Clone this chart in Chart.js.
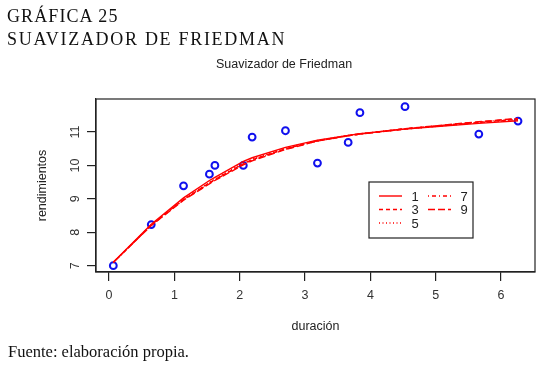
<!DOCTYPE html>
<html>
<head>
<meta charset="utf-8">
<script src="https://cdn.jsdelivr.net/npm/chart.js@4/dist/chart.umd.min.js"></script>
<style>
  html, body { margin: 0; padding: 0; background: #fff; }
  #wrap { position: relative; width: 546px; height: 369px; overflow: hidden; }
  #chart { position: absolute; left: 0; top: 0; }
  .serif { position: absolute; font-family: "Liberation Serif", "Times New Roman", serif; color: #111; white-space: nowrap; }
  #head1 { left: 7px; top: 7px; font-size: 18px; line-height: 18px; letter-spacing: 1.1px; }
  #head2 { left: 7px; top: 30px; font-size: 18px; line-height: 18px; letter-spacing: 1.7px; }
  #foot { left: 8px; top: 344px; font-size: 16.5px; line-height: 16px; }
</style>
</head>
<body>
<div id="wrap">
  <canvas id="chart" width="546" height="369"></canvas>
  <div class="serif" id="head1">GRÁFICA 25</div>
  <div class="serif" id="head2">SUAVIZADOR DE FRIEDMAN</div>
  <div class="serif" id="foot">Fuente: elaboración propia.</div>
</div>
<script>
// observed points
const duracion = [0.065, 0.646, 1.14, 1.536, 1.62, 2.055, 2.19, 2.70, 3.19, 3.66, 3.84, 4.53, 5.66, 6.26];
const rendimientos = [7.0, 8.23, 9.39, 9.74, 10.0, 10.0, 10.85, 11.04, 10.07, 10.69, 11.58, 11.76, 10.94, 11.33];

// smoother fits, one per bass value
const bassLabels = ["1", "3", "5", "7", "9"];
const fit1 = [7.10, 8.24, 9.03, 9.55, 9.64, 10.12, 10.23, 10.54, 10.76, 10.90, 10.95, 11.09, 11.26, 11.34];
const fit3 = [7.10, 8.22, 8.98, 9.48, 9.58, 10.05, 10.17, 10.50, 10.74, 10.89, 10.94, 11.09, 11.29, 11.38];
const fit5 = [7.10, 8.22, 8.99, 9.50, 9.60, 10.07, 10.19, 10.52, 10.75, 10.90, 10.95, 11.09, 11.28, 11.37];
const fit7 = [7.10, 8.21, 8.97, 9.47, 9.57, 10.04, 10.16, 10.49, 10.73, 10.89, 10.94, 11.10, 11.30, 11.40];
const fit9 = [7.10, 8.20, 8.96, 9.45, 9.55, 10.02, 10.14, 10.48, 10.73, 10.89, 10.94, 11.10, 11.31, 11.41];
const fits = [fit1, fit3, fit5, fit7, fit9];
const dashes = [[], [4, 3], [1, 2.5], [1, 3, 4, 3], [7, 3]];

const xTicks = [0, 1, 2, 3, 4, 5, 6];
const yTicks = [7, 8, 9, 10, 11];

Chart.defaults.font.family = "'Liberation Sans', Arial, sans-serif";
Chart.defaults.font.size = 12.5;
Chart.defaults.color = "#333";

function toXY(ys) {
    return duracion.map((x, i) => ({x: x, y: ys[i]}));
}

const datasets = fits.map((ys, i) => ({
    label: bassLabels[i],
    data: toXY(ys),
    showLine: true,
    borderColor: "#ff0000",
    borderWidth: 1.4,
    borderDash: dashes[i],
    pointRadius: 0,
    fill: false,
    tension: 0
}));
datasets.push({
    label: "datos",
    data: toXY(rendimientos),
    showLine: false,
    pointRadius: 3.4,
    pointBorderWidth: 2,
    pointBorderColor: "#1010ee",
    pointBackgroundColor: "rgba(0,0,0,0)"
});

// box around plot region, main title, legend inside plot
const rStyle = {
    id: "rStyle",
    afterDatasetsDraw(chart) {
        const {ctx, chartArea} = chart;
        ctx.save();
        ctx.strokeStyle = "#222";
        ctx.lineWidth = 1.2;
        ctx.strokeRect(chartArea.left, chartArea.top, chartArea.right - chartArea.left, chartArea.bottom - chartArea.top);

        ctx.fillStyle = "#222";
        ctx.font = "12.5px 'Liberation Sans', Arial, sans-serif";
        ctx.textAlign = "center";
        ctx.textBaseline = "alphabetic";
        ctx.fillText("Suavizador de Friedman", 284, 68);

        // legend
        const lx = 369, ly = 182, lw = 104, lh = 56;
        ctx.fillStyle = "#fff";
        ctx.fillRect(lx, ly, lw, lh);
        ctx.strokeStyle = "#222";
        ctx.lineWidth = 1.2;
        ctx.strokeRect(lx, ly, lw, lh);
        ctx.font = "13px 'Liberation Sans', Arial, sans-serif";
        const cols = [{x: 379, tx: 415}, {x: 428, tx: 464}];
        const rows = [196, 209.5, 223];
        bassLabels.forEach((lab, i) => {
            const c = cols[i < 3 ? 0 : 1];
            const r = rows[i < 3 ? i : i - 3];
            const ds = chart.data.datasets[i];
            ctx.strokeStyle = ds.borderColor;
            ctx.lineWidth = ds.borderWidth;
            ctx.setLineDash(ds.borderDash);
            ctx.beginPath();
            ctx.moveTo(c.x, r);
            ctx.lineTo(c.x + 23, r);
            ctx.stroke();
            ctx.setLineDash([]);
            ctx.fillStyle = "#222";
            ctx.textAlign = "center";
            ctx.textBaseline = "middle";
            ctx.fillText(lab, c.tx, r + 1);
        });
        ctx.restore();
    }
};

new Chart(document.getElementById("chart"), {
    type: "scatter",
    data: {datasets: datasets},
    options: {
        responsive: false,
        animation: false,
        devicePixelRatio: 1,
        layout: {padding: {left: 0, top: 99, right: 11, bottom: 0}},
        plugins: {
            legend: {display: false},
            tooltip: {enabled: false}
        },
        scales: {
            x: {
                type: "linear",
                position: "bottom",
                min: -0.2,
                max: 6.52,
                afterBuildTicks: s => { s.ticks = xTicks.map(v => ({value: v})); },
                afterFit: s => { s.height = 97; },
                ticks: {padding: 7.5, minRotation: 0, maxRotation: 0, autoSkip: false, color: "#333"},
                grid: {drawOnChartArea: false, drawTicks: true, tickLength: 9, color: "#222", lineWidth: 1.2},
                border: {display: true, color: "#222", width: 1.2},
                title: {display: true, text: "duración", color: "#222", padding: {top: 0, bottom: 34.5}}
            },
            y: {
                type: "linear",
                position: "left",
                min: 6.81,
                max: 11.99,
                afterBuildTicks: s => { s.ticks = yTicks.map(v => ({value: v})); },
                afterFit: s => { s.width = 96; },
                ticks: {padding: 5, minRotation: 90, maxRotation: 90, crossAlign: "center", autoSkip: false, color: "#333"},
                grid: {drawOnChartArea: false, drawTicks: true, tickLength: 9, color: "#222", lineWidth: 1.2},
                border: {display: true, color: "#222", width: 1.2},
                title: {display: true, text: "rendimientos", color: "#222", padding: {top: 35.2, bottom: 0}}
            }
        }
    },
    plugins: [rStyle]
});
</script>
</body>
</html>
